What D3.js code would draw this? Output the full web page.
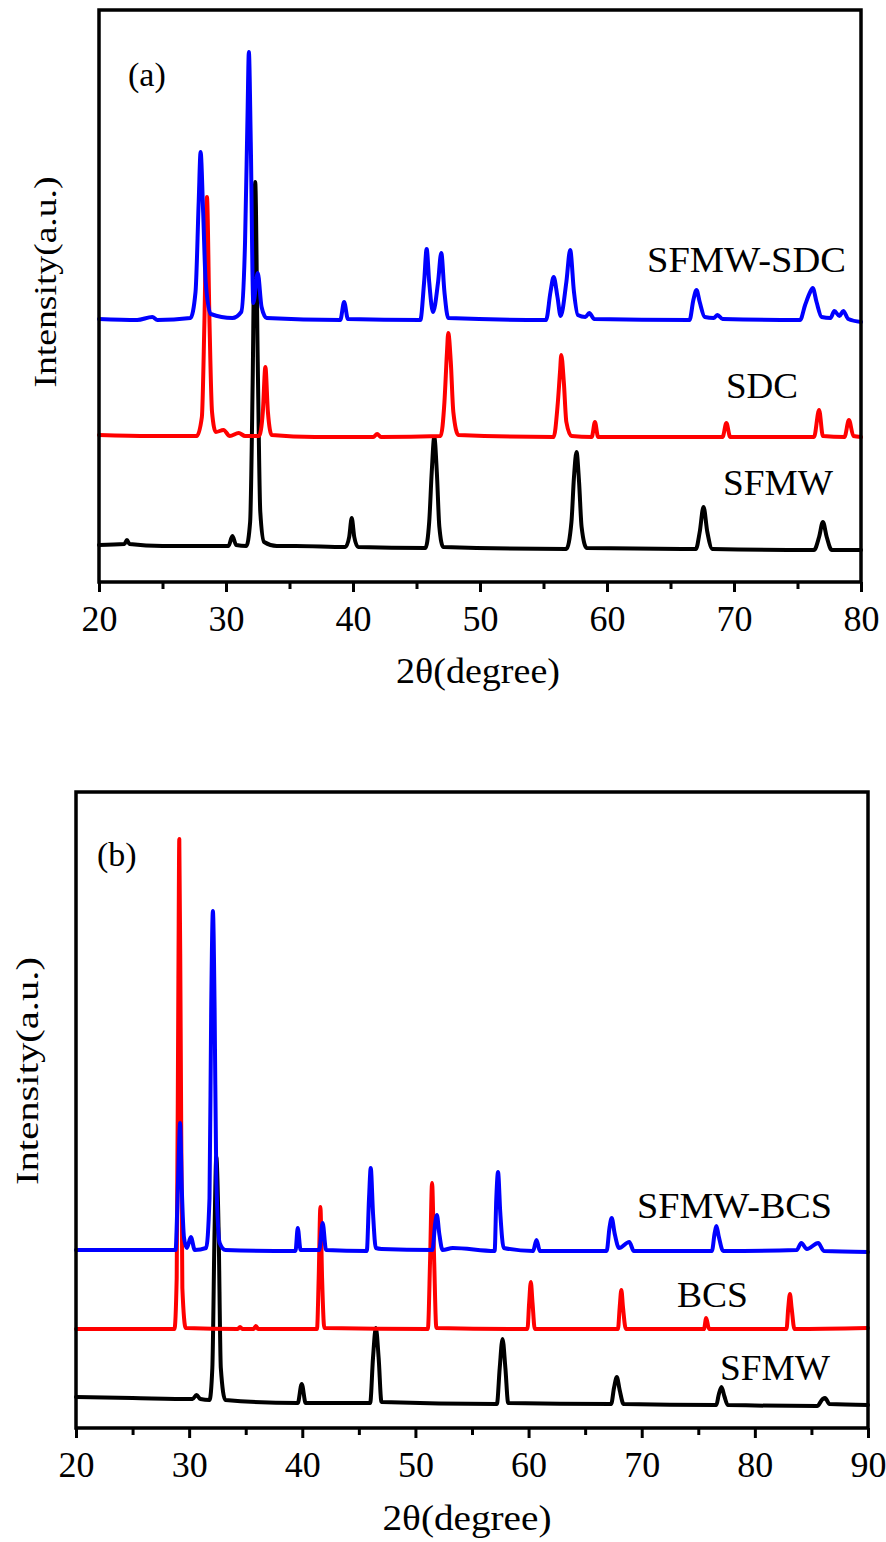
<!DOCTYPE html>
<html>
<head>
<meta charset="utf-8">
<script src="https://cdn.jsdelivr.net/npm/d3@7/dist/d3.min.js"></script>
<style>
body { margin: 0; background: #fff; }
svg text { font-family: "Liberation Serif", "Times New Roman", serif; fill: #000; }
</style>
</head>
<body>
<script>
// ---------- data (2theta in degree, intensity in a.u.) ----------

// panel (a): SFMW
var aSfmwTheta = [20, 22.0, 22.2, 22.4, 25, 29, 30.2, 30.5, 30.8, 31.6, 31.9, 32.1, 32.3, 32.5, 32.7, 33.0, 34, 35.5,
	39.4, 39.7, 39.9, 40.1, 40.4, 45.7, 46.0, 46.2, 46.4, 46.6, 46.8, 47.1, 56.8, 57.2, 57.4, 57.6, 57.8, 58.0, 58.4,
	67.0, 67.3, 67.6, 67.9, 68.3, 76.3, 76.7, 77.0, 77.3, 77.7, 80];
var aSfmwInt = [37, 38, 42, 38, 36, 36, 36, 46, 37, 36, 60, 200, 400, 220, 70, 40, 36, 36,
	35, 45, 64, 45, 35, 34, 60, 110, 145, 110, 55, 35, 33, 60, 105, 130, 100, 55, 34,
	33, 50, 75, 50, 33, 32, 45, 60, 45, 32, 32];

// panel (a): SDC
var aSdcTheta = [20, 24, 27.7, 28.1, 28.3, 28.5, 28.7, 28.9, 29.2, 29.8, 30.3, 31.0, 31.5, 32.6, 32.9, 33.1, 33.3, 33.6,
	37, 41.6, 41.9, 42.2, 46.9, 47.2, 47.4, 47.5, 47.7, 47.9, 48.3, 55.8, 56.1, 56.3, 56.4, 56.6, 56.8, 57.2,
	58.8, 59.05, 59.3, 69.1, 69.4, 69.7, 76.3, 76.7, 77.0, 78.7, 79.05, 79.4, 80];
var aSdcInt = [147, 146, 146, 165, 260, 385, 260, 170, 150, 152, 146, 149, 146, 146, 170, 215, 170, 147,
	145, 145, 148, 145, 146, 180, 230, 249, 220, 170, 147, 145, 175, 210, 227, 200, 160, 146,
	145, 160, 145, 145, 159, 145, 145, 172, 146, 145, 162, 146, 145];

// panel (a): SFMW-SDC
var aMixTheta = [20, 23, 24.2, 24.6, 27.2, 27.6, 27.85, 28.0, 28.2, 28.4, 28.8, 30.5, 31.2, 31.5, 31.7, 31.8, 31.95,
	32.15, 32.5, 32.8, 33.2, 39.0, 39.3, 39.6, 45.3, 45.6, 45.8, 46.0, 46.3, 46.7, 46.95, 47.2, 47.5,
	55.2, 55.55, 55.8, 56.1, 56.35, 56.8, 57.1, 57.4, 57.7, 58.3, 58.6, 59.0, 66.5, 66.8, 67.05, 67.3, 67.7,
	68.4, 68.7, 69.1, 75.2, 75.6, 76.0, 76.2, 76.5, 76.9, 77.6, 77.9, 78.3, 78.6, 79.0, 80];
var aMixInt = [263, 262, 265, 262, 264, 290, 380, 430, 370, 300, 268, 264, 270, 340, 470, 530, 440,
	279, 309, 275, 264, 262, 280, 263, 262, 300, 333, 300, 270, 300, 329, 290, 264,
	262, 290, 305, 285, 266, 300, 332, 290, 267, 265, 269, 263, 262, 282, 292, 280, 265,
	264, 267, 263, 262, 277, 290, 294, 280, 265, 264, 271, 266, 271, 263, 260];

// panel (b): SFMW
var bSfmwTheta = [20, 25, 30.3, 30.65, 31.0, 31.8, 32.05, 32.25, 32.4, 32.6, 32.8, 33.2, 39.6, 39.95, 40.3,
	46.0, 46.25, 46.5, 46.75, 47.0, 57.2, 57.45, 57.7, 57.95, 58.2, 67.3, 67.55, 67.8, 68.05, 68.4,
	76.6, 76.8, 77.05, 77.3, 77.6, 85.5, 86.0, 86.2, 86.6, 90];
var bSfmwInt = [31, 30, 29, 33, 29, 28, 60, 200, 271, 200, 60, 28, 25, 44, 25,
	25, 70, 100, 70, 26, 24, 60, 89, 60, 25, 24, 40, 51, 38, 24,
	23, 33, 41, 32, 23, 22, 29, 30, 24, 23];

// panel (b): BCS
var bBcsTheta = [20, 28.7, 28.9, 29.05, 29.13, 29.25, 29.4, 29.7, 34.3, 34.5, 34.7, 35.7, 35.9, 36.1,
	41.3, 41.45, 41.6, 41.75, 41.95, 51.1, 51.3, 51.47, 51.65, 51.85, 59.9, 60.05, 60.2, 60.35, 60.55,
	67.9, 68.05, 68.2, 68.35, 68.6, 75.5, 75.7, 75.95, 82.8, 82.95, 83.1, 83.25, 83.5, 90];
var bBcsInt = [99, 99, 150, 450, 589, 400, 140, 100, 99, 101, 99, 99, 102, 99,
	99, 150, 221, 150, 100, 99, 170, 245, 170, 100, 99, 125, 146, 125, 99,
	99, 120, 138, 120, 99, 99, 110, 99, 99, 120, 134, 120, 99, 100];

// panel (b): SFMW-BCS
var bMixTheta = [20, 28.8, 28.95, 29.1, 29.2, 29.35, 29.55, 29.8, 30.15, 30.5, 31.5, 31.8, 31.95, 32.1, 32.25,
	32.4, 32.7, 33.2, 39.4, 39.6, 39.85, 41.5, 41.8, 42.1, 45.7, 45.9, 46.05, 46.25, 46.5, 47.0,
	51.5, 51.75, 51.9, 52.1, 52.4, 53.3, 57.0, 57.15, 57.3, 57.5, 57.8, 60.4, 60.7, 61.0,
	66.9, 67.15, 67.35, 67.6, 68.0, 68.9, 69.3, 76.2, 76.45, 76.6, 76.8, 77.2, 83.7, 84.1, 84.6, 85.6, 86.1, 90];
var bMixInt = [178, 178, 220, 280, 305, 240, 190, 180, 191, 178, 180, 230, 420, 517, 420,
	250, 185, 178, 177, 200, 178, 178, 205, 178, 177, 230, 260, 215, 180, 179,
	178, 205, 213, 195, 178, 180, 177, 230, 256, 215, 180, 177, 188, 177,
	177, 200, 210, 195, 180, 186, 177, 177, 195, 202, 192, 177, 178, 185, 179, 185, 177, 176];

// axis ticks and labels
var aMajorTicks = [20, 30, 40, 50, 60, 70, 80];
var aTickLabels = ["20", "30", "40", "50", "60", "70", "80"];
var aMinorTicks = [25, 35, 45, 55, 65, 75];
var bMajorTicks = [20, 30, 40, 50, 60, 70, 80, 90];
var bTickLabels = ["20", "30", "40", "50", "60", "70", "80", "90"];
var bMinorTicks = [25, 35, 45, 55, 65, 75, 85];

var seriesColors = ["#000000", "#ff0000", "#0000ff"];

// ---------- drawing ----------
var svg = d3.select("body").append("svg")
	.attr("width", 886)
	.attr("height", 1542);

// helper to zip theta / intensity arrays into points
function zipPoints(thetas, ints) {
	return thetas.map(function(t, i) { return [t, ints[i]]; });
}

drawPanel({
	left: 99, right: 861, top: 10, bottom: 582,
	xDomain: [20, 80], yMax: 572,
	major: aMajorTicks, labels: aTickLabels, minor: aMinorTicks,
	series: [zipPoints(aSfmwTheta, aSfmwInt), zipPoints(aSdcTheta, aSdcInt), zipPoints(aMixTheta, aMixInt)],
	tag: "(a)", tagX: 128, tagY: 86,
	names: [["SFMW", 723, 495, 110], ["SDC", 726, 398, 72], ["SFMW-SDC", 647, 272, 199]],
	yTitleX: 56, yTitleMid: 282, yTitleLen: 211,
	xTitleX: 478, xTitleY: 683, xTitleLen: 164
});

drawPanel({
	left: 76, right: 868, top: 792, bottom: 1428,
	xDomain: [20, 90], yMax: 636,
	major: bMajorTicks, labels: bTickLabels, minor: bMinorTicks,
	series: [zipPoints(bSfmwTheta, bSfmwInt), zipPoints(bBcsTheta, bBcsInt), zipPoints(bMixTheta, bMixInt)],
	tag: "(b)", tagX: 97, tagY: 866,
	names: [["SFMW", 720, 1380, 110], ["BCS", 677, 1307, 71], ["SFMW-BCS", 637, 1218, 195]],
	yTitleX: 38, yTitleMid: 1071, yTitleLen: 228,
	xTitleX: 467, xTitleY: 1530, xTitleLen: 169
});

function drawPanel(p) {
	var x = d3.scaleLinear().domain(p.xDomain).range([p.left, p.right]);
	var y = d3.scaleLinear().domain([0, p.yMax]).range([p.bottom, p.top]);
	var g = svg.append("g");

	// traces, SFMW first so the composite ends up on top
	var line = d3.line()
		.x(function(d) { return x(d[0]); })
		.y(function(d) { return y(d[1]); })
		.curve(d3.curveMonotoneX);

	g.selectAll("path.trace")
		.data(p.series)
		.enter().append("path")
		.attr("class", "trace")
		.attr("d", line)
		.attr("fill", "none")
		.attr("stroke", function(d, i) { return seriesColors[i]; })
		.attr("stroke-width", 4)
		.attr("stroke-linejoin", "round")
		.attr("stroke-linecap", "round");

	// minor ticks on the bottom
	g.append("g")
		.attr("transform", "translate(0," + p.bottom + ")")
		.call(d3.axisBottom(x).tickValues(p.minor).tickSize(7).tickFormat(""))
		.call(styleAxis);

	// major ticks with labels
	g.append("g")
		.attr("transform", "translate(0," + p.bottom + ")")
		.call(d3.axisBottom(x).tickValues(p.major).tickSize(10).tickPadding(13)
			.tickFormat(function(d, i) { return p.labels[i]; }))
		.call(styleAxis)
		.selectAll("text")
		.attr("font-size", 36);

	// frame
	g.append("rect")
		.attr("x", p.left)
		.attr("y", p.top)
		.attr("width", p.right - p.left)
		.attr("height", p.bottom - p.top)
		.attr("fill", "none")
		.attr("stroke", "#000")
		.attr("stroke-width", 3.5);

	// axis titles
	g.append("text")
		.attr("x", p.xTitleX)
		.attr("y", p.xTitleY)
		.attr("text-anchor", "middle")
		.attr("font-size", 35)
		.attr("textLength", p.xTitleLen)
		.attr("lengthAdjust", "spacingAndGlyphs")
		.text("2θ(degree)");

	g.append("text")
		.attr("transform", "translate(" + p.yTitleX + "," + p.yTitleMid + ") rotate(-90)")
		.attr("text-anchor", "middle")
		.attr("font-size", 32)
		.attr("textLength", p.yTitleLen)
		.attr("lengthAdjust", "spacingAndGlyphs")
		.text("Intensity(a.u.)");

	// panel tag
	g.append("text")
		.attr("x", p.tagX)
		.attr("y", p.tagY)
		.attr("font-size", 34)
		.text(p.tag);

	// sample names
	p.names.forEach(function(n) {
		g.append("text")
			.attr("x", n[1])
			.attr("y", n[2])
			.attr("font-size", 36)
			.attr("textLength", n[3])
			.attr("lengthAdjust", "spacingAndGlyphs")
			.text(n[0]);
	});
}

function styleAxis(sel) {
	sel.select(".domain").remove();
	sel.selectAll("line").attr("stroke", "#000").attr("stroke-width", 3);
}
</script>
</body>
</html>
